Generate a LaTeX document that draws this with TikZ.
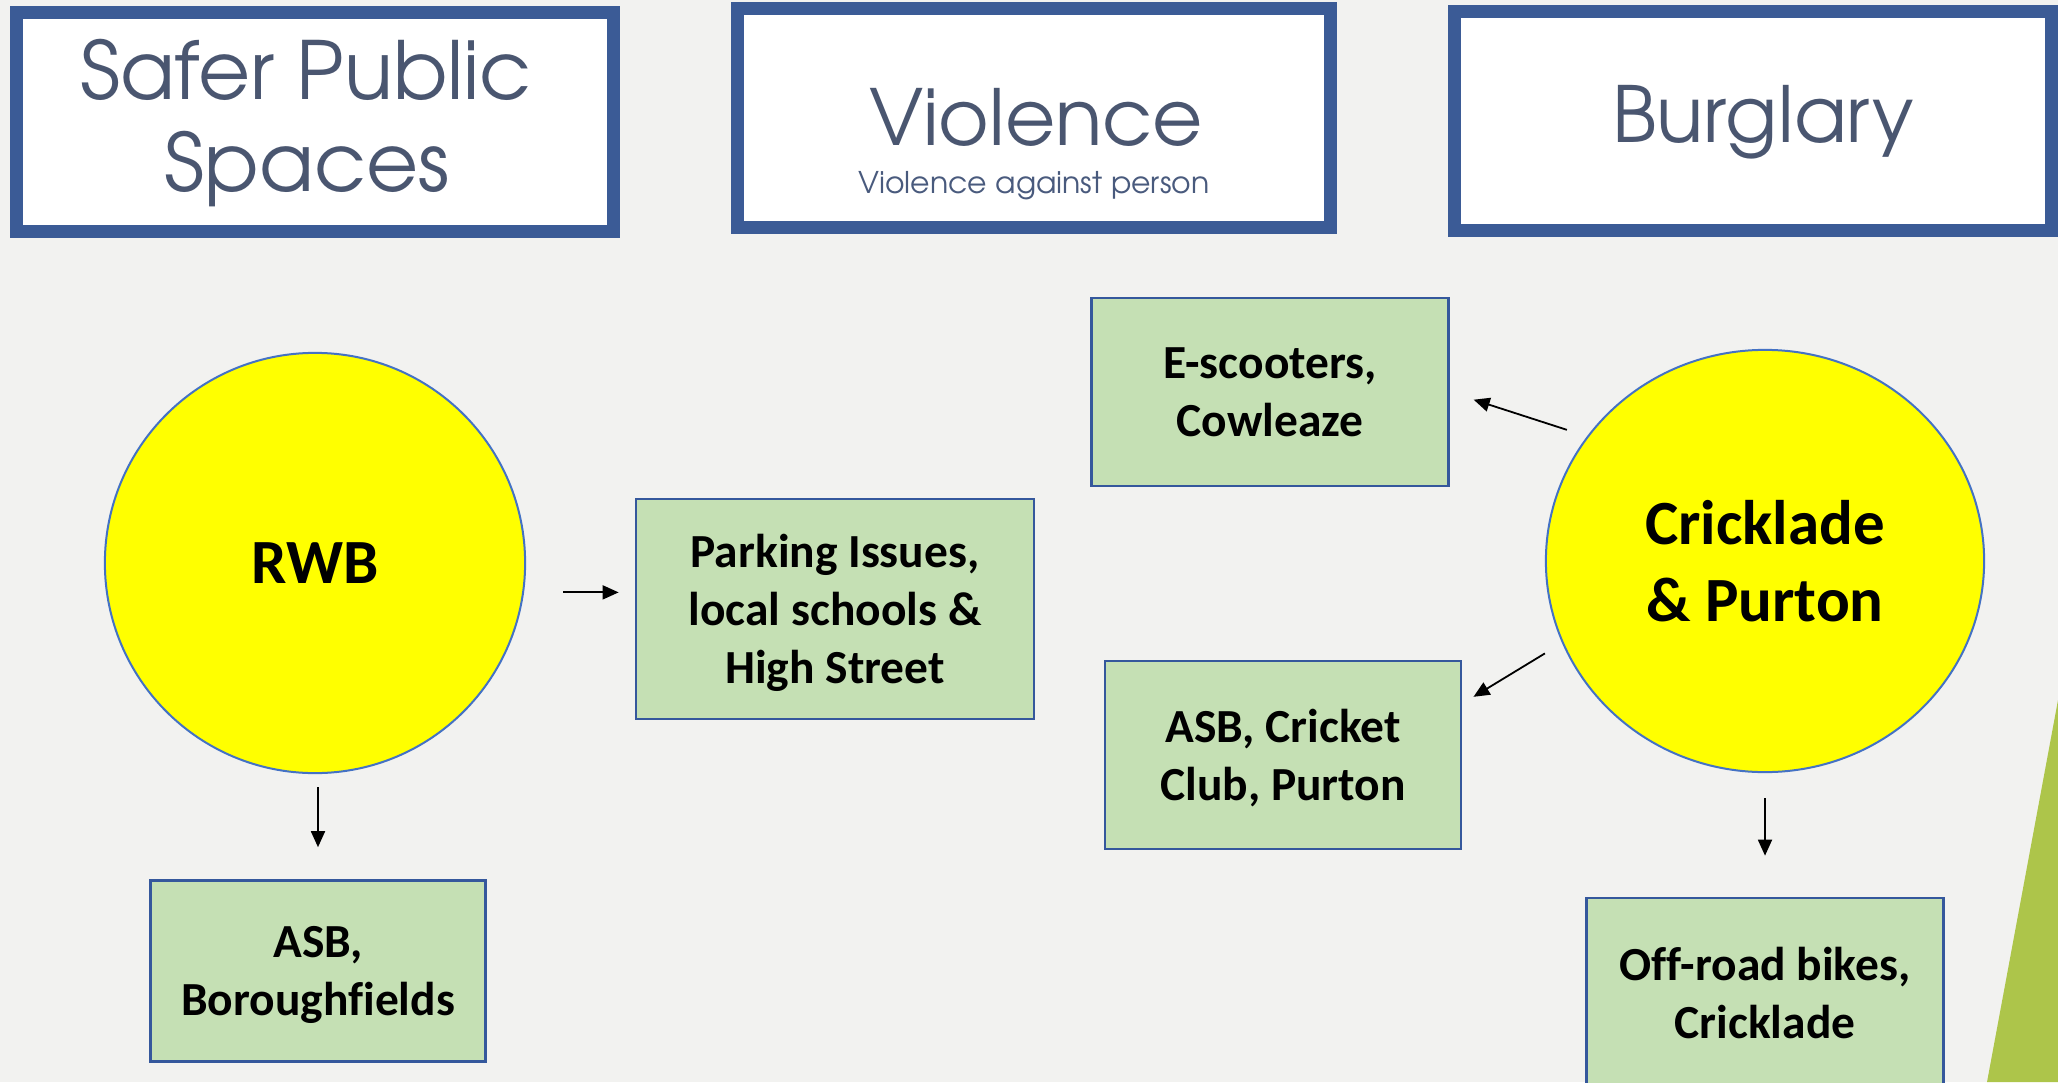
\documentclass[tikz,border=0pt]{standalone}
\usepackage{fontspec}
\setmainfont{Carlito}[Ligatures=NoCommon]
\newfontfamily\gothic{TeX Gyre Adventor}
\usetikzlibrary{shapes.geometric,arrows.meta}
\definecolor{slidebg}{RGB}{242,242,240}
\definecolor{hdrblue}{RGB}{59,91,150}
\definecolor{hdrtext}{RGB}{74,86,112}
\definecolor{circblue}{RGB}{68,114,196}
\definecolor{circyellow}{RGB}{255,255,0}
\definecolor{boxgreen}{RGB}{197,224,180}
\definecolor{boxedge}{RGB}{53,88,156}
\definecolor{leafgreen}{RGB}{173,197,74}
\begin{document}
\begin{tikzpicture}[x=0.01cm,y=-0.01cm]
 	\tikzstyle{hdr-box}=[rectangle,draw=hdrblue,fill=white,line width=0.13cm,inner sep=0pt,minimum width=5.96cm,minimum height=2.18cm]
 	\tikzstyle{hdr-title}=[anchor=base,inner sep=0pt,text=hdrtext,font=\gothic\fontsize{22}{26}\selectfont]
 	\tikzstyle{hdr-sub}=[anchor=base,inner sep=0pt,text=hdrtext!85!circblue,font=\gothic\fontsize{8.5}{10}\selectfont]
 	\tikzstyle{area-node}=[draw=circblue,fill=circyellow,line width=0.02cm,inner sep=0pt,align=center,font=\fontsize{17.9}{21.9}\selectfont\bfseries]
 	\tikzstyle{issue-node}=[rectangle,draw=boxedge,fill=boxgreen,line width=0.025cm,inner sep=0pt,text depth=0pt,align=center,font=\fontsize{13.5}{16.5}\selectfont\bfseries]
 	\tikzstyle{link}=[-{Triangle[length=0.16cm,width=0.14cm]},line width=0.018cm,black]
 	\fill[slidebg] (0,0) rectangle (2058,1082);
 	\useasboundingbox (0,0) rectangle (2058,1082);
 	\fill[leafgreen] (2058,700) -- (1987,1082) -- (2058,1082) -- cycle;
 	% header row
 	\node[hdr-box] (sps-box) at (315,122) {};
 	\node[hdr-box,minimum width=5.93cm] (vio-box) at (1034,118) {};
 	\node[hdr-box,minimum height=2.19cm] (bur-box) at (1753,121) {};
 	\node[hdr-title,font=\gothic\fontsize{22.8}{26}\selectfont] (sps-l1) at (306,100) {Safer Public};
 	\node[hdr-title,font=\gothic\fontsize{22.8}{26}\selectfont] (sps-l2) at (307,192) {Spaces};
 	\node[hdr-title] (vio-title) at (1036,146) {Violence};
 	\node[hdr-sub] (vio-sub) at (1034,194) {Violence against person};
 	\node[hdr-title] (bur-title) at (1763,143) {Burglary};
 	% areas
 	\node[area-node,circle,minimum size=4.2cm] (rwb) at (315,563) {RWB};
 	\node[area-node,ellipse,minimum width=4.38cm,minimum height=4.22cm] (cp) at (1765,561) {Cricklade\\\& Purton};
 	% issues
 	\node[issue-node,minimum width=3.98cm,minimum height=2.20cm] (parking) at (835,609) {Parking Issues,\\local schools \&\\High Street};
 	\node[issue-node,minimum width=3.35cm,minimum height=1.81cm] (asb-bf) at (318,971) {ASB,\\Boroughfields};
 	\node[issue-node,minimum width=3.57cm,minimum height=1.88cm] (escoot) at (1270,392) {E-scooters,\\Cowleaze};
 	\node[issue-node,minimum width=3.56cm,minimum height=1.88cm] (asb-cc) at (1283,755) {ASB, Cricket\\Club, Purton};
 	\node[issue-node,minimum width=3.57cm,minimum height=1.90cm] (offroad) at (1765,993) {Off-road bikes,\\Cricklade};
 	\path (rwb.-8)	edge[link,shorten <=0.39cm,shorten >=0.16cm]	(rwb.-8 -| parking.west)
 		(asb-bf.north |- rwb.south)	edge[link,shorten <=0.13cm,shorten >=0.32cm]	(asb-bf.north)
 		(cp.145)	edge[link,shorten <=0.21cm,shorten >=0.25cm]	(escoot.east)
 		(cp.202)	edge[link,shorten <=0.20cm,shorten >=0.13cm]	(asb-cc.16)
 		(cp.south)	edge[link,shorten <=0.25cm,shorten >=0.41cm]	(offroad.north);
 \end{tikzpicture}
\end{document}
